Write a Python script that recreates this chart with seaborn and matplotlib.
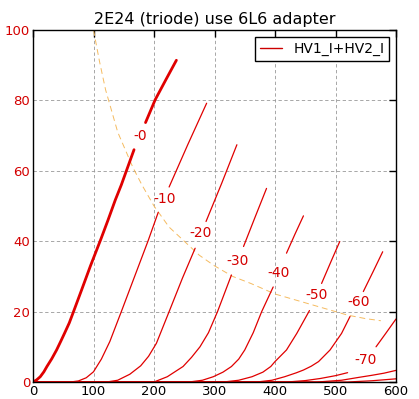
import matplotlib
matplotlib.use("Agg")
import matplotlib.pyplot as plt
import seaborn as sns
from matplotlib.lines import Line2D

# ---- data (plate voltage V, plate current mA) ----
grid_voltages = ["-0", "-10", "-20", "-30", "-40", "-50", "-60", "-70", "-80", "-90"]

# each curve: lower part (below its label) and upper part (above its label)
c0_lo_v = [0, 6, 12, 18, 23, 31, 39, 46, 52, 60, 67, 80, 95, 112, 124, 136, 146, 155, 167]
c0_lo_i = [0, 0.6, 1.5, 2.9, 4.4, 6.6, 9.1, 11.6, 13.8, 16.8, 20, 26, 33, 40.5, 46, 51.7, 56, 60.3, 66]
c0_up_v = [186, 202, 220, 237]
c0_up_i = [73.7, 80.2, 86, 91.4]

c10_lo_v = [0, 62, 75, 88, 100, 113, 127, 146, 168, 190, 207]
c10_lo_i = [0, 0, 0.3, 1.2, 2.9, 6.5, 11.5, 20, 30, 40, 48.2]
c10_up_v = [225, 256, 287]
c10_up_i = [55.4, 67.5, 79.2]

c20_lo_v = [0, 122, 140, 160, 178, 191, 204, 225, 247, 268]
c20_lo_i = [0, 0, 0.5, 2.2, 4.6, 7.3, 11, 20, 29.5, 38]
c20_up_v = [286, 312, 337]
c20_up_i = [45.6, 56.5, 67.4]

c30_lo_v = [0, 200, 222, 248, 262, 276, 290, 305, 328]
c30_lo_i = [0, 0, 1.5, 4.4, 7, 10, 14, 20, 30.4]
c30_up_v = [348, 367, 386]
c30_up_i = [38.5, 46.8, 55]

c40_lo_v = [0, 258, 280, 298, 314, 328, 340, 350, 364, 378, 397]
c40_lo_i = [0, 0, 0.5, 1.5, 2.8, 4.4, 6.5, 9.1, 14, 20, 27]
c40_up_v = [419, 433, 447]
c40_up_i = [36.6, 42, 47.2]

c50_lo_v = [0, 315, 340, 362, 380, 393, 400, 419, 436, 457]
c50_lo_i = [0, 0, 0.5, 1.5, 2.8, 4.4, 5.8, 9.1, 13.8, 20.3]
c50_up_v = [477, 492, 507]
c50_up_i = [28, 34, 39.9]

c60_lo_v = [0, 370, 395, 416, 435, 447, 460, 472, 491, 510, 524]
c60_lo_i = [0, 0, 0.5, 1.5, 2.6, 3.4, 4.5, 5.8, 9.1, 13.8, 18.6]
c60_up_v = [546, 562, 578]
c60_up_i = [25.7, 31.3, 37]

c70_lo_v = [0, 420, 450, 475, 500, 520]
c70_lo_i = [0, 0, 0.4, 1.0, 1.8, 2.65]
c70_up_v = [567, 583, 600]
c70_up_i = [10, 13.8, 17.9]

c80_v = [0, 470, 510, 538, 560, 580, 600]
c80_i = [0, 0, 0.5, 1.3, 1.9, 2.5, 3.3]

c90_v = [0, 520, 560, 600]
c90_i = [0, 0, 0.35, 0.9]

# plate dissipation limit (dashed)
pd_v = [100, 110, 120, 130, 140, 150, 165, 180, 200, 225, 250, 275, 300, 330,
        360, 400, 440, 480, 520, 550, 575]
pd_i = [100, 91, 83, 77, 71, 67, 61, 56, 50, 44, 40, 36, 33, 30, 28, 25,
        23, 21, 19, 18, 17.4]

# label positions (V, mA)
lab_v = [177, 218, 277, 338, 406, 468, 538, 549]
lab_i = [70, 52, 42.3, 34.4, 31, 24.7, 22.8, 6.3]

x_ticks = [0, 100, 200, 300, 400, 500, 600]
y_ticks = [0, 20, 40, 60, 80, 100]

# ---- drawing ----
sns.set_theme(style="white")
plt.rcParams['font.family'] = ['DejaVu Sans']
plt.rcParams['text.color'] = 'black'

RED = "#e00000"
TXT_RED = "#d40000"

fig = plt.figure(figsize=(4.19, 3.99), dpi=100)
ax = fig.add_axes([33 / 419, 1 - 382 / 399, 363 / 419, 352 / 399])

ax.grid(True, color="0.6", linestyle="--", linewidth=0.6, dashes=(4, 3))
ax.set_axisbelow(True)

sns.lineplot(x=pd_v, y=pd_i, ax=ax, color="#f5bb60", linewidth=0.7,
             sort=False, estimator=None)
ax.lines[-1].set_dashes((6, 4))

segments = [
    (c0_lo_v, c0_lo_i, 2.0), (c0_up_v, c0_up_i, 2.0),
    (c10_lo_v, c10_lo_i, 0.9), (c10_up_v, c10_up_i, 0.9),
    (c20_lo_v, c20_lo_i, 0.9), (c20_up_v, c20_up_i, 0.9),
    (c30_lo_v, c30_lo_i, 0.9), (c30_up_v, c30_up_i, 0.9),
    (c40_lo_v, c40_lo_i, 0.9), (c40_up_v, c40_up_i, 0.9),
    (c50_lo_v, c50_lo_i, 0.9), (c50_up_v, c50_up_i, 0.9),
    (c60_lo_v, c60_lo_i, 0.9), (c60_up_v, c60_up_i, 0.9),
    (c70_lo_v, c70_lo_i, 0.9), (c70_up_v, c70_up_i, 0.9),
    (c80_v, c80_i, 0.9), (c90_v, c90_i, 0.9),
]
for xs, ys, lw in segments:
    sns.lineplot(x=xs, y=ys, ax=ax, color=RED, linewidth=lw,
                 sort=False, estimator=None)

for txt, xv, yv in zip(grid_voltages, lab_v, lab_i):
    ax.text(xv, yv, txt, ha="center", va="center", color=TXT_RED, fontsize=10)

ax.set_xlim(0, 600)
ax.set_ylim(0, 100)
ax.set_xticks(x_ticks)
ax.set_yticks(y_ticks)
ax.tick_params(direction="in", top=True, right=True, length=5, width=1,
               labelsize=9.5, pad=2, colors="black")
for lbl in ax.get_yticklabels():
    lbl.set_color(TXT_RED)
for sp in ax.spines.values():
    sp.set_color("black")
    sp.set_linewidth(1.0)
    sp.set_visible(True)

ax.set_title("2E24 (triode) use 6L6 adapter", fontsize=11.5, pad=4, color="black")

handle = Line2D([], [], color="#cc0000", linewidth=1.0)
leg = ax.legend([handle], ["HV1_I+HV2_I"], loc="upper right", fontsize=10,
                frameon=True, fancybox=False, handlelength=1.6,
                borderaxespad=0.5, borderpad=0.35)
leg.get_frame().set_edgecolor("black")
leg.get_frame().set_linewidth(1.0)
leg.get_frame().set_alpha(1)
for t in leg.get_texts():
    t.set_color("black")

fig.savefig("out.png", dpi=100)
